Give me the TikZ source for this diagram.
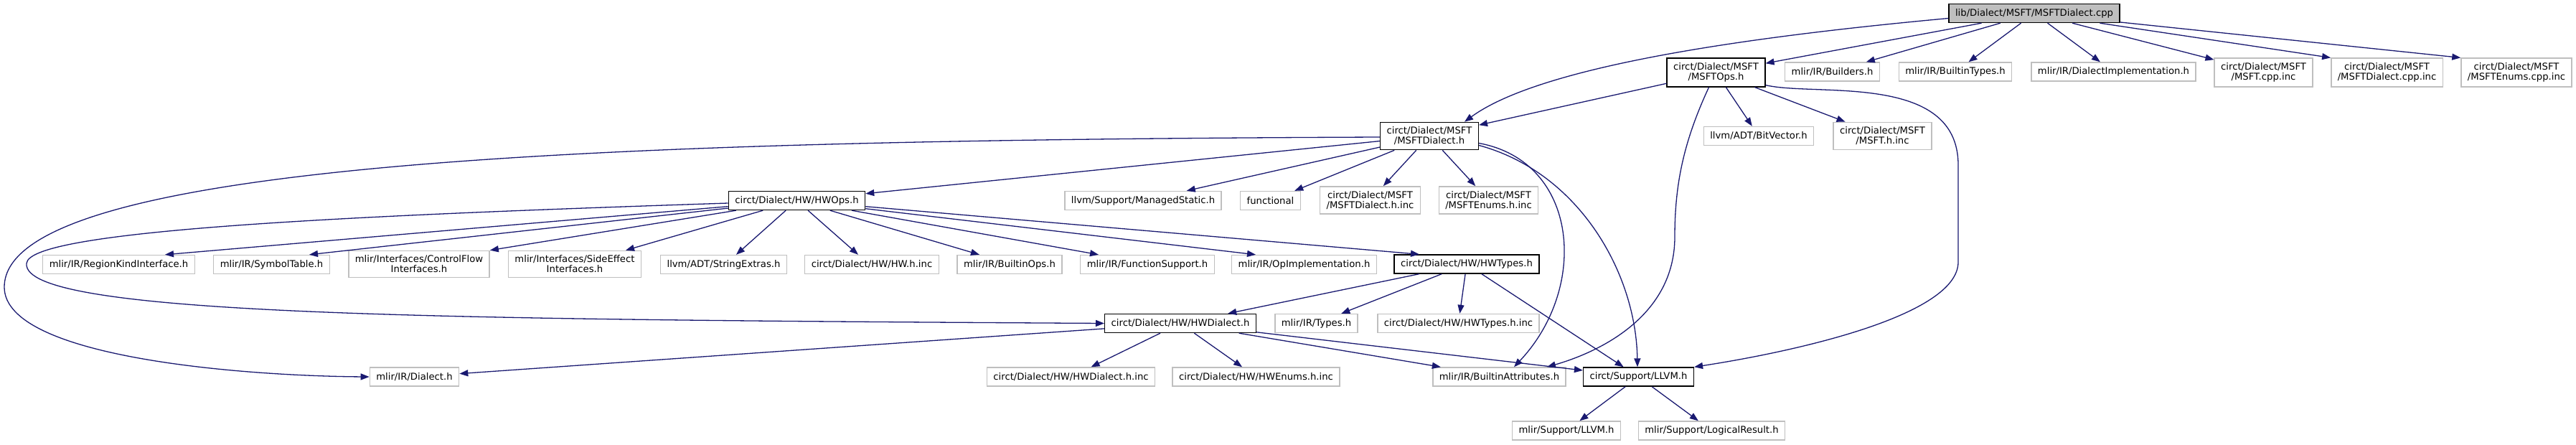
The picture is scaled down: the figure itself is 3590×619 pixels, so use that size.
\documentclass[tikz,border=0pt]{standalone}
\usepackage{fontspec}
\setmainfont{DejaVu Sans}
\usepackage{xcolor}
\usepackage{tikz}
\usetikzlibrary{arrows.meta}
\definecolor{edgeblue}{RGB}{25,25,112}
\definecolor{leafgray}{RGB}{191,191,191}

\begin{document}
\begin{tikzpicture}[x=1pt,y=-1pt,
  box/.style={line width=1.4pt, font=\fontsize{13.2}{14}\selectfont, inner xsep=9pt, inner ysep=6.5pt, minimum height=26pt, align=center},
  root/.style={box, draw=black, fill=leafgray},
  hdr/.style={box, draw=black, fill=white},
  leaf/.style={box, draw=leafgray, fill=white},
  edge/.style={draw=edgeblue, line width=1.3pt, -{Triangle[length=12pt,width=9pt]}}]
\useasboundingbox (0,0) rectangle (3590,619);

% top rows
\node[root] (cpp) at (2835,18.5) {lib/Dialect/MSFT/MSFTDialect.cpp};
\node[hdr] (msftops) at (2391.5,101) {circt/Dialect/MSFT\\/MSFTOps.h};
\node[leaf] (builders) at (2553.5,100) {mlir/IR/Builders.h};
\node[leaf] (builtintypes) at (2725,100) {mlir/IR/BuiltinTypes.h};
\node[leaf] (dialectimpl) at (2945.5,100) {mlir/IR/DialectImplementation.h};
\node[leaf] (msftcppinc) at (3154.5,101) {circt/Dialect/MSFT\\/MSFT.cpp.inc};
\node[leaf] (msftdialectcppinc) at (3326.5,101) {circt/Dialect/MSFT\\/MSFTDialect.cpp.inc};
\node[leaf] (msftenumscppinc) at (3507,101) {circt/Dialect/MSFT\\/MSFTEnums.cpp.inc};
\node[hdr] (msftdialect) at (1992,189.5) {circt/Dialect/MSFT\\/MSFTDialect.h};
\node[leaf] (bitvector) at (2451,189.5) {llvm/ADT/BitVector.h};
\node[leaf] (msfthinc) at (2623.5,189.5) {circt/Dialect/MSFT\\/MSFT.h.inc};
\node[hdr] (hwops) at (1110.5,279.5) {circt/Dialect/HW/HWOps.h};
\node[leaf] (managedstatic) at (1593,279.5) {llvm/Support/ManagedStatic.h};
\node[leaf] (functional) at (1770.5,279.5) {functional};
\node[leaf] (msftdialecthinc) at (1909.5,279) {circt/Dialect/MSFT\\/MSFTDialect.h.inc};
\node[leaf] (msftenumshinc) at (2074.5,279) {circt/Dialect/MSFT\\/MSFTEnums.h.inc};

% HW rows
\node[leaf] (regionkind) at (165.5,368.5) {mlir/IR/RegionKindInterface.h};
\node[leaf] (symboltable) at (378.5,368.5) {mlir/IR/SymbolTable.h};
\node[leaf] (controlflow) at (584,368) {mlir/Interfaces/ControlFlow\\Interfaces.h};
\node[leaf] (sideeffect) at (801,368) {mlir/Interfaces/SideEffect\\Interfaces.h};
\node[leaf] (stringextras) at (1008.5,368.5) {llvm/ADT/StringExtras.h};
\node[leaf] (hwhinc) at (1215,368.5) {circt/Dialect/HW/HW.h.inc};
\node[leaf] (builtinops) at (1407,368.5) {mlir/IR/BuiltinOps.h};
\node[leaf] (funcsupport) at (1599,368.5) {mlir/IR/FunctionSupport.h};
\node[leaf] (opimpl) at (1817.5,368.5) {mlir/IR/OpImplementation.h};
\node[hdr] (hwtypes) at (2044,368) {circt/Dialect/HW/HWTypes.h};
\node[hdr] (hwdialect) at (1645,450.5) {circt/Dialect/HW/HWDialect.h};
\node[leaf] (types) at (1834.5,450.5) {mlir/IR/Types.h};
\node[leaf] (hwtypeshinc) at (2032.5,450.5) {circt/Dialect/HW/HWTypes.h.inc};
\node[leaf] (dialect) at (577.5,525) {mlir/IR/Dialect.h};
\node[leaf] (hwdialecthinc) at (1492.5,525) {circt/Dialect/HW/HWDialect.h.inc};
\node[leaf] (hwenumshinc) at (1750.5,525) {circt/Dialect/HW/HWEnums.h.inc};
\node[leaf] (builtinattr) at (2089.5,525) {mlir/IR/BuiltinAttributes.h};
\node[hdr] (llvm) at (2283.5,525) {circt/Support/LLVM.h};
\node[leaf] (mlirllvm) at (2183,600) {mlir/Support/LLVM.h};
\node[leaf] (logicalresult) at (2385.5,600) {mlir/Support/LogicalResult.h};

% straight includes
\foreach \a/\b in {cpp/msftops, cpp/builders, cpp/builtintypes, cpp/dialectimpl, cpp/msftcppinc,
  msftops/msftdialect, msftops/bitvector, msftops/msfthinc,
  msftdialect/hwops, msftdialect/managedstatic, msftdialect/functional,
  msftdialect/msftdialecthinc, msftdialect/msftenumshinc,
  hwtypes/hwdialect, hwtypes/types, hwtypes/hwtypeshinc, hwtypes/llvm,
  hwdialect/dialect, hwdialect/hwdialecthinc, hwdialect/hwenumshinc,
  hwdialect/builtinattr, hwdialect/llvm, llvm/mlirllvm, llvm/logicalresult}
  \draw[edge] (\a) -- (\b);
\draw[edge] (cpp) -- (msftdialectcppinc.north west);
\draw[edge] (cpp) -- (msftenumscppinc.north west);

% HWOps fan
\draw[edge] (hwops) -- ([xshift=64.5pt]regionkind.north);
\draw[edge] (hwops) -- ([xshift=52.5pt]symboltable.north);
\draw[edge] (hwops) -- (controlflow.north east);
\draw[edge] (hwops) -- ([xshift=71pt]sideeffect.north);
\draw[edge] (hwops) -- ([xshift=17.5pt]stringextras.north);
\draw[edge] (hwops) -- ([xshift=-19pt]hwhinc.north);
\draw[edge] (hwops) -- ([xshift=-42pt]builtinops.north);
\draw[edge] (hwops) -- ([xshift=-68pt]funcsupport.north);
\draw[edge] (hwops) -- ([xshift=-67.5pt]opimpl.north);
\draw[edge] (hwops) -- ([xshift=-66pt]hwtypes.north);

% curved includes
\draw[edge] ([yshift=-7pt]cpp.west) .. controls (2450,50) and (2150,90) .. ([xshift=49pt]msftdialect.north);
\draw[edge] ([xshift=-10pt]msftops.south) .. controls (2345,200) and (2334,260) .. (2334,330)
  .. controls (2334,440) and (2230,490) .. ([xshift=66.5pt]builtinattr.north);
\draw[edge] ([yshift=3pt]msftops.south east) .. controls (2530,135) and (2729,100) .. (2729,230)
  -- (2729,365) .. controls (2729,440) and (2500,490) .. (llvm.north east);
\draw[edge] ([yshift=-10pt]msftdialect.east) .. controls (2200,225) and (2215,400) .. ([xshift=20.5pt]builtinattr.north);
\draw[edge] ([yshift=-13pt]msftdialect.east) .. controls (2200,240) and (2280,380) .. ([xshift=-1.5pt]llvm.north);
\draw[edge] ([yshift=-1.5pt]msftdialect.west) .. controls (900,195) and (6,220) .. (6,400)
  .. controls (6,500) and (350,524) .. (dialect.west);
\draw[edge] ([yshift=-3.5pt]hwops.west) .. controls (500,300) and (40,320) .. (37,367)
  .. controls (30,440) and (600,445) .. (hwdialect.west);
\end{tikzpicture}
\end{document}
